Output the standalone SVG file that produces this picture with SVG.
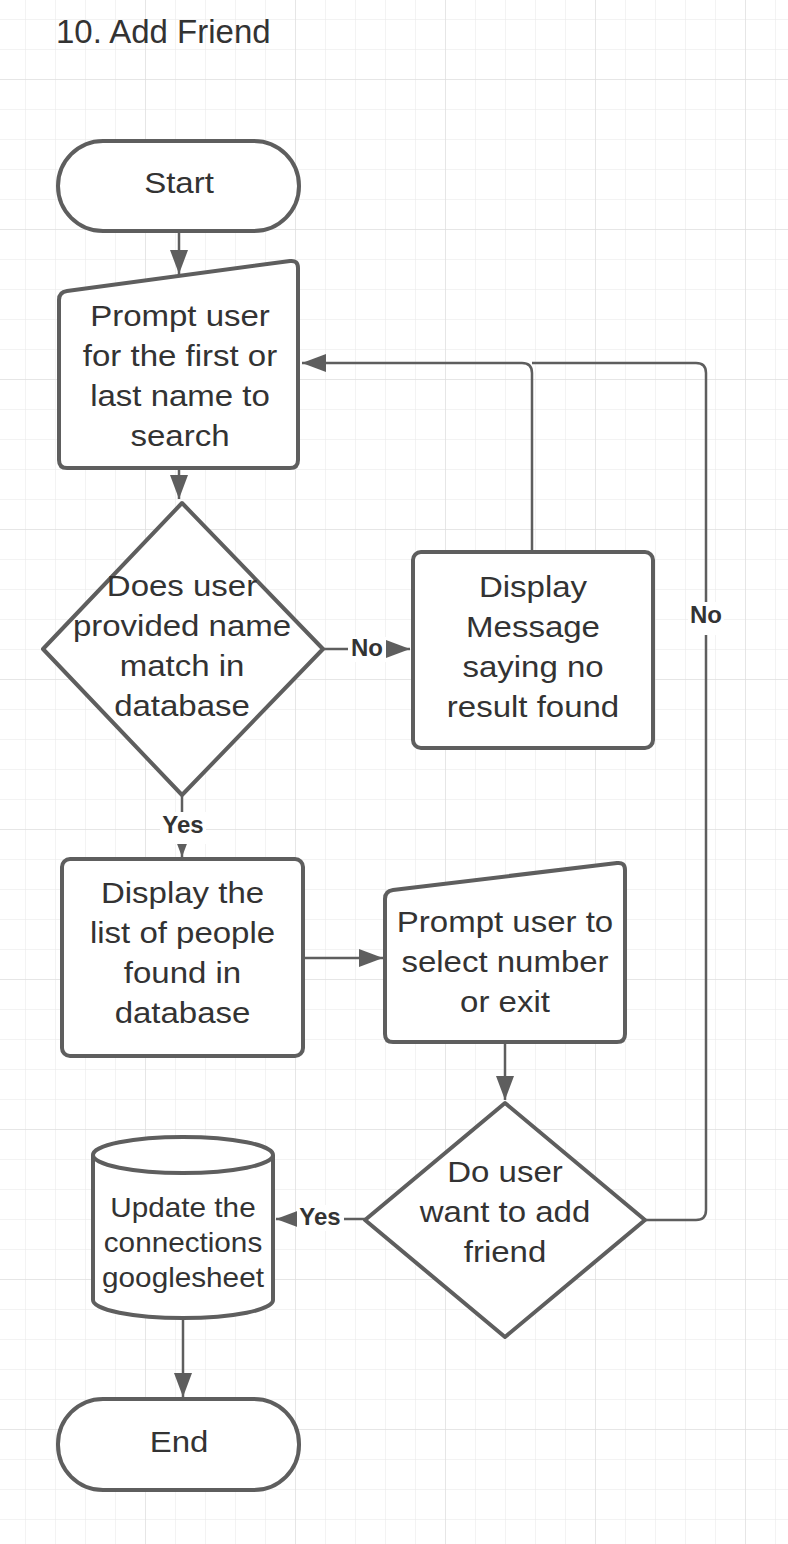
<svg xmlns="http://www.w3.org/2000/svg" width="788" height="1544" viewBox="0 0 788 1544">
<defs>
<pattern id="minor" x="25" y="19" width="30" height="30" patternUnits="userSpaceOnUse">
<path d="M0,0 V30 M0,0 H30" fill="none" stroke="#e8e8e8" stroke-width="1"/>
</pattern>
<pattern id="major" x="145" y="79" width="150" height="150" patternUnits="userSpaceOnUse">
<path d="M0,0 V150 M0,0 H150" fill="none" stroke="#dadada" stroke-width="1"/>
</pattern>
<marker id="arr" viewBox="0 0 24 18" refX="24" refY="9" markerWidth="24" markerHeight="18" markerUnits="userSpaceOnUse" orient="auto">
<path d="M0,0 L24,9 L0,18 Z" fill="#5e5e5e"/>
</marker>
</defs>
<style>
.shape{fill:#fff;stroke:#5e5e5e;stroke-width:4;stroke-linejoin:round}
.conn{fill:none;stroke:#5e5e5e;stroke-width:2.5}
.t{font-family:"Liberation Sans",Arial,sans-serif;font-size:30px;fill:#333;text-anchor:middle}
.ts{font-family:"Liberation Sans",Arial,sans-serif;font-size:27px;fill:#333;text-anchor:middle}
.lbl{font-family:"Liberation Sans",Arial,sans-serif;font-size:24px;font-weight:bold;fill:#333;text-anchor:middle}
.title{font-family:"Liberation Sans",Arial,sans-serif;font-size:33px;fill:#333}
.bg{fill:#fff}
</style>
<rect width="788" height="1544" fill="#fff"/>
<rect width="788" height="1544" fill="url(#minor)"/>
<rect width="788" height="1544" fill="url(#major)"/>

<text class="title" x="56" y="43">10. Add Friend</text>

<g id="connectors">
<path class="conn" d="M179,232 V274" marker-end="url(#arr)"/>
<path class="conn" d="M179,468 V499" marker-end="url(#arr)"/>
<path class="conn" d="M323,649 H410" marker-end="url(#arr)"/>
<path class="conn" d="M532,552 V373 Q532,363 522,363 H302" marker-end="url(#arr)"/>
<path class="conn" d="M645,1220 H696 Q706,1220 706,1210 V373 Q706,363 696,363 H532"/>
<path class="conn" d="M182,795 V857" marker-end="url(#arr)"/>
<path class="conn" d="M303,958 H383" marker-end="url(#arr)"/>
<path class="conn" d="M505,1042 V1100" marker-end="url(#arr)"/>
<path class="conn" d="M365,1219 H276" marker-end="url(#arr)"/>
<path class="conn" d="M183,1318 V1397" marker-end="url(#arr)"/>
<rect class="bg" x="348" y="637" width="38" height="25"/>
<text class="lbl" x="367" y="656">No</text>
<rect class="bg" x="688" y="602" width="36" height="33"/>
<text class="lbl" x="706" y="623">No</text>
<rect class="bg" x="160" y="812" width="46" height="32"/>
<text class="lbl" x="183" y="833">Yes</text>
<rect class="bg" x="297" y="1205" width="47" height="26"/>
<text class="lbl" x="320" y="1225">Yes</text>
</g>

<g id="start">
<rect class="shape" x="58" y="141" width="241" height="90" rx="45"/>
<text class="t" transform="translate(179 0) scale(1.1 1)" x="0" y="193">Start</text>
</g>

<g id="prompt-name">
<path class="shape" d="M59,300 Q59,292 67,291 L290,261 Q298,260 298,268 V460 Q298,468 290,468 H67 Q59,468 59,460 Z"/>
<text class="t" transform="translate(180 0) scale(1.1 1)"><tspan x="0" y="326">Prompt user</tspan><tspan x="0" y="366">for the first or</tspan><tspan x="0" y="406">last name to</tspan><tspan x="0" y="446">search</tspan></text>
</g>

<g id="decision-match">
<path class="shape" d="M182,503 L323,649 L182,795 L43,649 Z"/>
<text class="t" transform="translate(182 0) scale(1.1 1)"><tspan x="0" y="596">Does user</tspan><tspan x="0" y="636">provided name</tspan><tspan x="0" y="676">match in</tspan><tspan x="0" y="716">database</tspan></text>
</g>

<g id="no-result">
<rect class="shape" x="413" y="552" width="240" height="196" rx="8"/>
<text class="t" transform="translate(533 0) scale(1.1 1)"><tspan x="0" y="597">Display</tspan><tspan x="0" y="637">Message</tspan><tspan x="0" y="677">saying no</tspan><tspan x="0" y="717">result found</tspan></text>
</g>

<g id="display-list">
<rect class="shape" x="62" y="859" width="241" height="197" rx="8"/>
<text class="t" transform="translate(182.5 0) scale(1.1 1)"><tspan x="0" y="903">Display the</tspan><tspan x="0" y="943">list of people</tspan><tspan x="0" y="983">found in</tspan><tspan x="0" y="1023">database</tspan></text>
</g>

<g id="prompt-select">
<path class="shape" d="M385,899 Q385,891 393,890 L617,863 Q625,862 625,870 V1034 Q625,1042 617,1042 H393 Q385,1042 385,1034 Z"/>
<text class="t" transform="translate(505 0) scale(1.1 1)"><tspan x="0" y="932">Prompt user to</tspan><tspan x="0" y="972">select number</tspan><tspan x="0" y="1012">or exit</tspan></text>
</g>

<g id="decision-add">
<path class="shape" d="M505,1103 L645,1220 L505,1337 L365,1220 Z"/>
<text class="t" transform="translate(505 0) scale(1.1 1)"><tspan x="0" y="1182">Do user</tspan><tspan x="0" y="1222">want to add</tspan><tspan x="0" y="1262">friend</tspan></text>
</g>

<g id="update-sheet">
<path class="shape" d="M93,1155 A90,18 0 0 1 273,1155 V1300 A90,18 0 0 1 93,1300 Z"/>
<path class="shape" d="M93,1155 A90,18 0 0 0 273,1155" fill="none"/>
<text class="ts" transform="translate(183 0) scale(1.1 1)"><tspan x="0" y="1217">Update the</tspan><tspan x="0" y="1252">connections</tspan><tspan x="0" y="1287">googlesheet</tspan></text>
</g>

<g id="end">
<rect class="shape" x="58" y="1399" width="241" height="91" rx="45"/>
<text class="t" transform="translate(179 0) scale(1.1 1)" x="0" y="1452">End</text>
</g>
</svg>
